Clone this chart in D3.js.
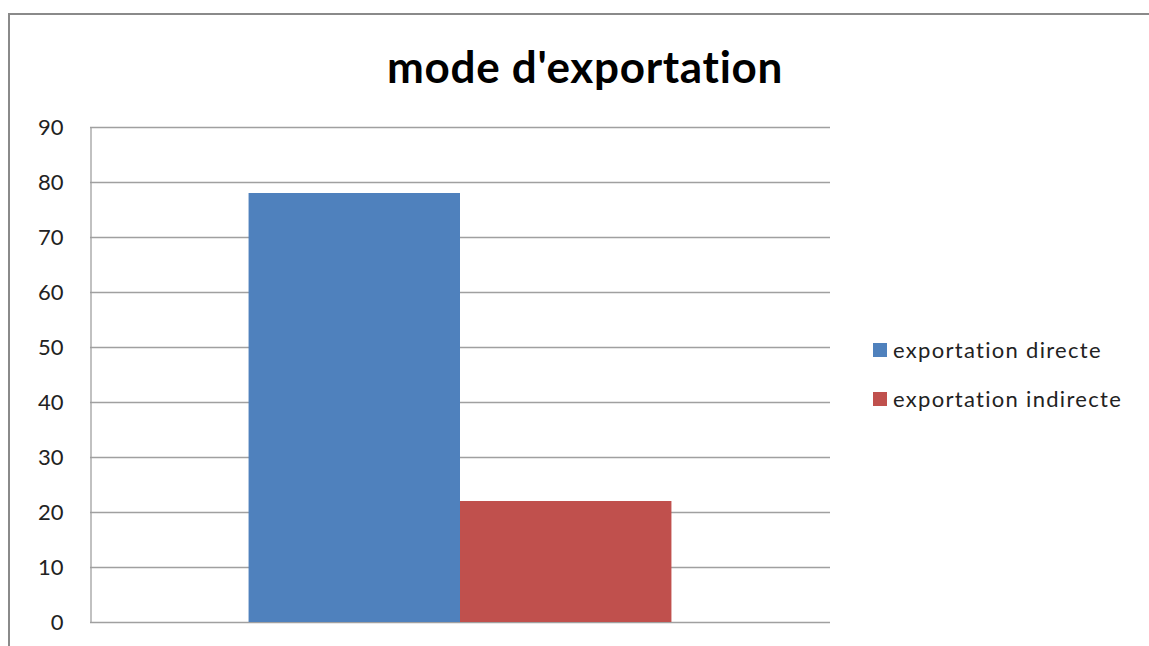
<!DOCTYPE html>
<html><head><meta charset="utf-8">
<script src="https://cdn.jsdelivr.net/npm/d3@7"></script>
<style>body{margin:0;background:#fff;} svg{display:block;}</style>
</head><body>
<svg id="c" width="1149" height="646"></svg>
<script>
const title = "mode d'exportation";
const categories = ["mode d'exportation"];
const seriesNames = ["exportation directe", "exportation indirecte"];
const seriesValues = [78, 22];
const seriesColors = ["#4F81BD", "#C0504D"];
const yTicks = [0, 10, 20, 30, 40, 50, 60, 70, 80, 90];

const svg = d3.select("#c");
const font = "Lato, 'Open Sans', sans-serif";
const L = 90, R = 830, T = 127, B = 622;

// outer chart border
svg.append("path").attr("d", "M9,650 L9,14 L1160,14")
  .attr("fill", "none").attr("stroke", "#8a8a8a").attr("stroke-width", 2);

const y = d3.scaleLinear().domain([0, 90]).range([B, T]);
const x0 = d3.scaleBand().domain(categories).range([L, R]).paddingInner(0).paddingOuter(0.375);
const x1 = d3.scaleBand().domain(seriesNames).range([0, x0.bandwidth()]).padding(0);

// gridlines
svg.append("g").selectAll("line").data(yTicks).join("line")
  .attr("x1", L).attr("x2", R)
  .attr("y1", d => Math.round(y(d)) + 0.5).attr("y2", d => Math.round(y(d)) + 0.5)
  .attr("stroke", "#a0a0a0").attr("stroke-width", 1.3);

// y axis
const yAxis = d3.axisLeft(y).tickValues(yTicks).tickSize(0).tickPadding(27);
const ga = svg.append("g").attr("transform", `translate(${L + 0.5},0)`).call(yAxis);
ga.select(".domain").attr("stroke", "#a0a0a0").attr("stroke-width", 1.3);
ga.selectAll("text").attr("font-family", font).attr("font-size", 22).attr("fill", "#222");

// bars
svg.append("g").selectAll("rect").data(seriesValues).join("rect")
  .attr("x", (d, i) => x0(categories[0]) + x1(seriesNames[i]))
  .attr("width", x1.bandwidth())
  .attr("y", d => y(d)).attr("height", d => B - y(d))
  .attr("fill", (d, i) => seriesColors[i]);

// title
svg.append("text").attr("x", 585).attr("y", 83).attr("text-anchor", "middle")
  .attr("font-family", font).attr("font-weight", "bold").attr("font-size", 44)
  .attr("letter-spacing", 0.7)
  .attr("fill", "#000").text(title);

// legend
const lg = svg.append("g").selectAll("g").data(seriesNames).join("g")
  .attr("transform", (d, i) => `translate(873,${343 + i * 49})`);
lg.append("rect").attr("width", 14).attr("height", 14).attr("fill", (d, i) => seriesColors[i]);
lg.append("text").attr("x", 20).attr("y", 15).attr("font-family", font).attr("font-size", 22)
  .attr("letter-spacing", 1.3).attr("fill", "#222").text(d => d);
</script>
</body></html>
